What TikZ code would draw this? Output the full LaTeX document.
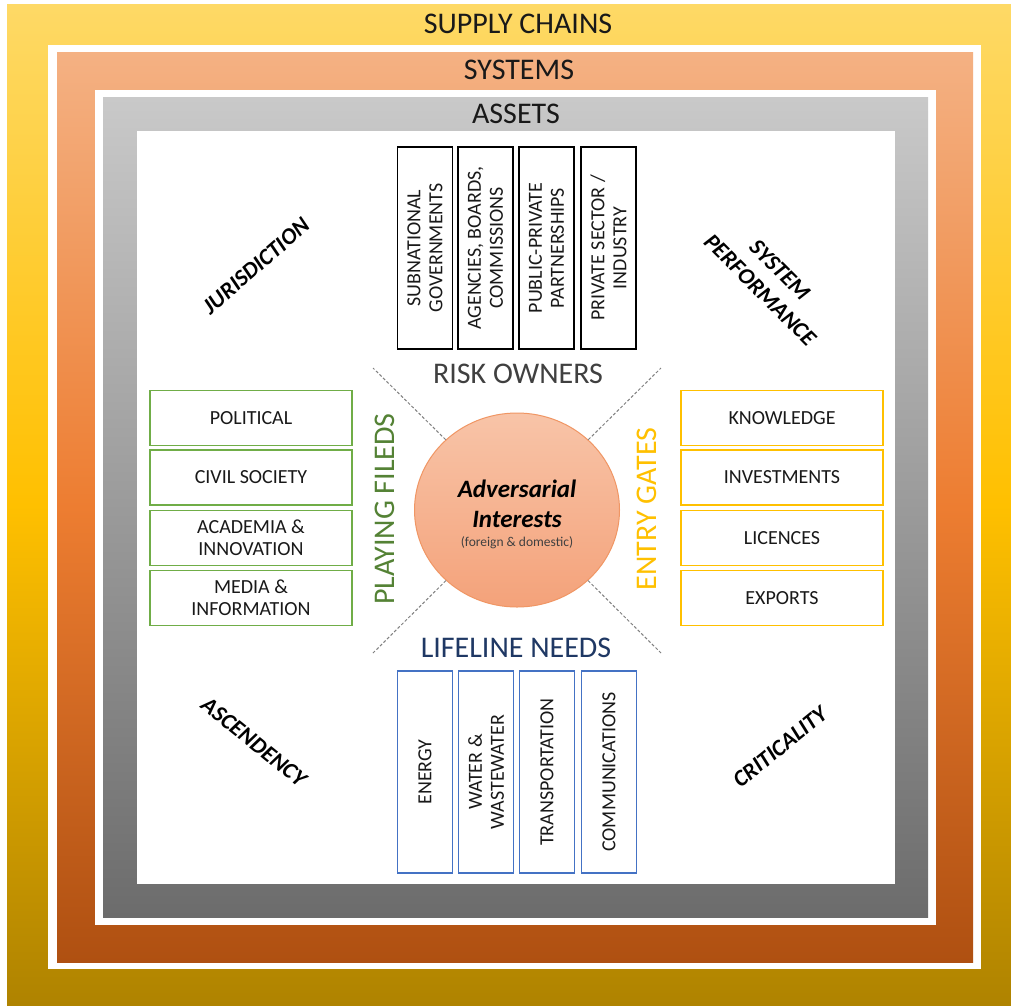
\documentclass[tikz,border=0pt]{standalone}
\usepackage{fontspec}
\setmainfont{Carlito}
\usetikzlibrary{shapes.geometric}

% band colours
\definecolor{yTop}{RGB}{254,217,102}
\definecolor{yMid}{RGB}{255,192,0}
\definecolor{yBot}{RGB}{175,131,0}
\definecolor{oTop}{RGB}{244,177,131}
\definecolor{oMid}{RGB}{237,125,49}
\definecolor{oBot}{RGB}{175,80,17}
\definecolor{gTop}{RGB}{201,201,201}
\definecolor{gBot}{RGB}{108,108,108}
% text and outline colours
\definecolor{inkDark}{RGB}{25,25,25}
\definecolor{inkGray}{RGB}{64,64,64}
\definecolor{navy}{RGB}{31,56,100}
\definecolor{leaf}{RGB}{112,173,71}
\definecolor{leafDark}{RGB}{84,130,53}
\definecolor{gold}{RGB}{255,192,0}
\definecolor{azure}{RGB}{68,114,196}
\definecolor{peachTop}{RGB}{248,196,168}
\definecolor{peachBot}{RGB}{244,162,122}
\definecolor{peachLine}{RGB}{240,150,100}

\begin{document}
\begin{tikzpicture}[x=1pt,y=-1pt,
  bandtitle/.style={inner sep=0pt,text=inkDark,font=\fontsize{30}{36}\selectfont},
  heading/.style={inner sep=0pt,font=\fontsize{30}{36}\selectfont},
  vbox/.style={rotate=90,fill=white,line width=1.5pt,minimum width=202pt,
    minimum height=55pt,inner sep=0pt,align=center,text=inkDark,
    font=\fontsize{20}{22}\selectfont},
  ownerbox/.style={vbox,draw=black},
  lifebox/.style={vbox,draw=azure},
  hbox/.style={fill=white,line width=1.5pt,minimum width=202pt,
    minimum height=55pt,inner sep=0pt,align=center,text=inkDark,
    font=\fontsize{20}{22}\selectfont},
  fieldbox/.style={hbox,draw=leaf},
  gatebox/.style={hbox,draw=gold},
  corner/.style={inner sep=0pt,align=center,text=black,
    font=\fontsize{23}{28}\selectfont\bfseries\itshape},
  advcircle/.style={ellipse,draw=peachLine,line width=1pt,
    top color=peachTop,bottom color=peachBot,
    minimum width=205pt,minimum height=194pt,inner sep=0pt},
  dashline/.style={draw=gray,line width=1pt,dash pattern=on 3pt off 2pt}
]
\useasboundingbox (0,0) rectangle (1011,1005);

% nested frames
\shade[top color=yTop,bottom color=yBot,middle color=yMid] (7,4) rectangle (1011,1005);
\fill[white] (48,45) rectangle (981,969);
\shade[top color=oTop,bottom color=oBot,middle color=oMid] (57,52) rectangle (973,962);
\fill[white] (95,90) rectangle (936,925);
\shade[top color=gTop,bottom color=gBot] (103,97) rectangle (928,917);
\fill[white] (137,131) rectangle (895,884);

% frame titles
\node[bandtitle] (tsupply) at (518,24) {SUPPLY CHAINS};
\node[bandtitle] (tsystems) at (519,70) {SYSTEMS};
\node[bandtitle] (tassets) at (516,114) {ASSETS};

% centre
\node[advcircle] (adv) at (517,510) {};
\node[inner sep=0pt,align=center,text=black,
  font=\fontsize{25}{30}\selectfont\bfseries\itshape] (advt) at (517,504) {Adversarial\\Interests};
\node[inner sep=0pt,text=inkGray,font=\fontsize{13.5}{15}\selectfont] (advs) at (517,543) {(foreign \& domestic)};

% diagonal separators
\coordinate (dtl) at (373,368);
\coordinate (dtr) at (661,368);
\coordinate (dbl) at (373,653);
\coordinate (dbr) at (661,653);
\draw[dashline] (adv) -- (dtl);
\draw[dashline] (adv) -- (dtr);
\draw[dashline] (adv) -- (dbl);
\draw[dashline] (adv) -- (dbr);

% risk owners
\node[ownerbox] (o1) at (425,248) {SUBNATIONAL\\GOVERNMENTS};
\node[ownerbox] (o2) at (485.5,248) {AGENCIES, BOARDS,\\COMMISSIONS};
\node[ownerbox] (o3) at (546.5,248) {PUBLIC-PRIVATE\\PARTNERSHIPS};
\node[ownerbox] (o4) at (608.5,248) {PRIVATE SECTOR /\\INDUSTRY};
\node[heading,text=inkGray] (hrisk) at (518,374) {RISK OWNERS};

% lifeline needs
\node[heading,text=navy] (hlife) at (516,648) {LIFELINE NEEDS};
\node[lifebox] (l1) at (425,772) {ENERGY};
\node[lifebox] (l2) at (486,772) {WATER \&\\WASTEWATER};
\node[lifebox] (l3) at (547,772) {TRANSPORTATION};
\node[lifebox] (l4) at (609,772) {COMMUNICATIONS};

% playing fields
\node[fieldbox] (f1) at (251,418) {POLITICAL};
\node[fieldbox] (f2) at (251,477.5) {CIVIL SOCIETY};
\node[fieldbox] (f3) at (251,538) {ACADEMIA \&\\INNOVATION};
\node[fieldbox] (f4) at (251,598) {MEDIA \&\\INFORMATION};
\node[heading,text=leafDark,rotate=90] (hfield) at (385,509) {PLAYING FILEDS};

% entry gates
\node[gatebox] (g1) at (782,418) {KNOWLEDGE};
\node[gatebox] (g2) at (782,477.5) {INVESTMENTS};
\node[gatebox] (g3) at (782,538) {LICENCES};
\node[gatebox] (g4) at (782,598) {EXPORTS};
\node[heading,text=gold,rotate=90] (hgate) at (647,509) {ENTRY GATES};

% corner labels
\node[corner,rotate=41] (cjur) at (256,266) {JURISDICTION};
\node[corner,rotate=-45] (cperf) at (770,280) {SYSTEM\\PERFORMANCE};
\node[corner,rotate=-39] (casc) at (254,742) {ASCENDENCY};
\node[corner,rotate=39] (ccrit) at (780,747) {CRITICALITY};
\end{tikzpicture}
\end{document}
